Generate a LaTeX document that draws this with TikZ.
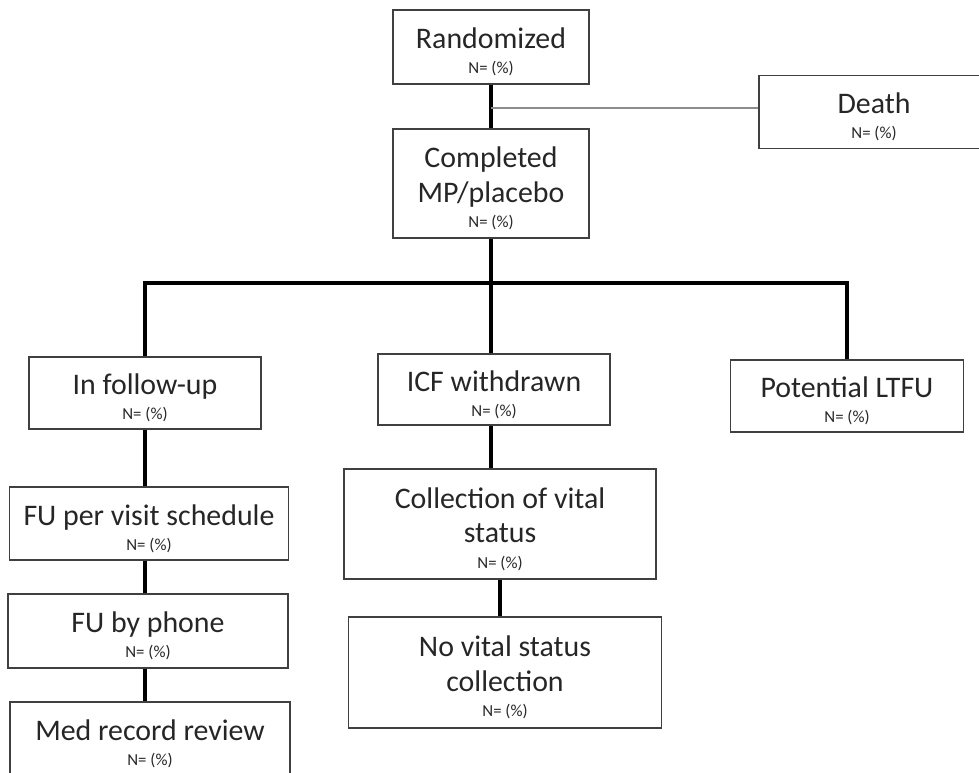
\documentclass[tikz,border=0pt]{standalone}
\usepackage{fontspec}
\setmainfont{Carlito}

\tikzset{
  box/.style={draw=black!75, line width=1.1pt, align=center, inner sep=2pt,
    text=black!85, font=\fontsize{22.4}{26}\selectfont},
  link/.style={line width=2.6pt, black},
  deathlink/.style={line width=1.8pt, black!45},
}
\newcommand{\tp}{\rule{0pt}{23pt}}
\newcommand{\npct}{\\[-7pt]{\fontsize{12.6}{14}\selectfont N= (\%)}}

\begin{document}
\begin{tikzpicture}[x=0.75pt, y=-0.75pt]
  \useasboundingbox (0,0) rectangle (979,772);
  \clip (0,0) rectangle (979,772);

  % top of the flow
  \node[box, minimum width=147pt, minimum height=55.5pt] (rand) at (491,47) {\tp Randomized\npct};
  \node[box, minimum width=172.5pt, minimum height=54.75pt] (death) at (874,112) {\tp Death\npct};
  \node[box, minimum width=147pt, minimum height=81.75pt] (compl) at (491,183.5) {\tp Completed\\MP/placebo\npct};

  % three branches
  \node[box, minimum width=174pt, minimum height=54pt] (follow) at (145,393) {\tp In follow-up\npct};
  \node[box, minimum width=174pt, minimum height=53.25pt] (icf) at (494,389.5) {\tp ICF withdrawn\npct};
  \node[box, minimum width=174.75pt, minimum height=54pt] (ltfu) at (847,396) {\tp Potential LTFU\npct};

  % left column
  \node[box, minimum width=209.25pt, minimum height=54.75pt] (fuvisit) at (149,523.5) {\tp FU per visit schedule\npct};
  \node[box, minimum width=210pt, minimum height=55.5pt] (phone) at (148,631) {\tp FU by phone\npct};
  \node[box, minimum width=210pt, minimum height=55.5pt] (medrec) at (150,739) {\tp Med record review\npct};

  % middle column
  \node[box, minimum width=234pt, minimum height=82.5pt] (vital) at (500,524) {\tp Collection of vital\\status\npct};
  \node[box, minimum width=234.75pt, minimum height=83.25pt] (novital) at (505,672.5) {\tp No vital status\\collection\npct};

  % connectors
  \coordinate (deathtap) at (491,108);
  \coordinate (split) at (491,283);
  \draw[link] (rand.south) -- (compl.north);
  \draw[deathlink] (deathtap) -- (death.west |- deathtap);
  \draw[link] (compl.south) -- (split);
  \draw[link] (follow.north) |- (split) -| (ltfu.north);
  \draw[link] (split) -- (split |- icf.north);
  \draw[link] (follow.south) -- (follow.south |- fuvisit.north);
  \draw[link] (follow.south |- fuvisit.south) -- (follow.south |- phone.north);
  \draw[link] (follow.south |- phone.south) -- (follow.south |- medrec.north);
  \draw[link] (split |- icf.south) -- (split |- vital.north);
  \draw[link] (vital.south) -- (vital.south |- novital.north);
\end{tikzpicture}
\end{document}
